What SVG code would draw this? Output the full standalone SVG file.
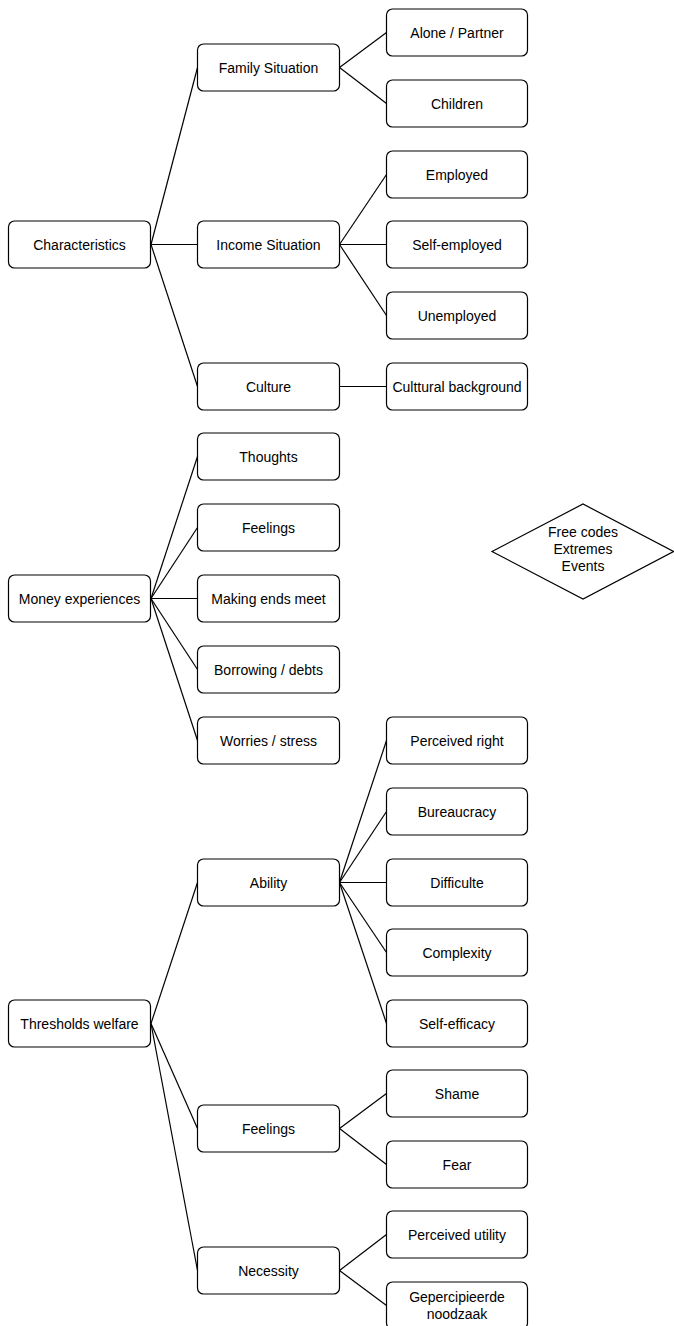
<svg xmlns="http://www.w3.org/2000/svg" width="674" height="1326" viewBox="0 0 674 1326">
<style>
.n rect{fill:#fff;stroke:#000;stroke-width:1.2}
.n text,.d text{font-family:"Liberation Sans",Arial,sans-serif;font-size:14px;fill:#000;text-anchor:middle;dominant-baseline:central}
#connectors line{stroke:#000;stroke-width:1.2}
</style>
<rect width="674" height="1326" fill="#fff"/>
<g id="connectors">
<line x1="151" y1="244.5" x2="197.5" y2="67.5"/>
<line x1="151" y1="244.5" x2="197.5" y2="244.5"/>
<line x1="151" y1="244.5" x2="197.5" y2="386.5"/>
<line x1="339.5" y1="67.5" x2="386.5" y2="32.5"/>
<line x1="339.5" y1="67.5" x2="386.5" y2="103.5"/>
<line x1="339.5" y1="244.5" x2="386.5" y2="174.5"/>
<line x1="339.5" y1="244.5" x2="386.5" y2="244.5"/>
<line x1="339.5" y1="244.5" x2="386.5" y2="315.5"/>
<line x1="339.5" y1="386.5" x2="386.5" y2="386.5"/>
<line x1="151" y1="598.5" x2="197.5" y2="456.5"/>
<line x1="151" y1="598.5" x2="197.5" y2="527.5"/>
<line x1="151" y1="598.5" x2="197.5" y2="598.5"/>
<line x1="151" y1="598.5" x2="197.5" y2="669.5"/>
<line x1="151" y1="598.5" x2="197.5" y2="740.5"/>
<line x1="151" y1="1023.5" x2="197.5" y2="882.5"/>
<line x1="151" y1="1023.5" x2="197.5" y2="1128.5"/>
<line x1="151" y1="1023.5" x2="197.5" y2="1270.5"/>
<line x1="339.5" y1="882.5" x2="386.5" y2="740.5"/>
<line x1="339.5" y1="882.5" x2="386.5" y2="811.5"/>
<line x1="339.5" y1="882.5" x2="386.5" y2="882.5"/>
<line x1="339.5" y1="882.5" x2="386.5" y2="952.5"/>
<line x1="339.5" y1="882.5" x2="386.5" y2="1023.5"/>
<line x1="339.5" y1="1128.5" x2="386.5" y2="1093.5"/>
<line x1="339.5" y1="1128.5" x2="386.5" y2="1164.5"/>
<line x1="339.5" y1="1270.5" x2="386.5" y2="1234.5"/>
<line x1="339.5" y1="1270.5" x2="386.5" y2="1305.5"/>
</g>
<g id="characteristics" class="n"><rect x="8.5" y="221" width="142" height="47" rx="6"/><text x="79.5" y="244.5">Characteristics</text></g>
<g id="family-situation" class="n"><rect x="197.5" y="44" width="142" height="47" rx="6"/><text x="268.5" y="67.5">Family Situation</text></g>
<g id="income-situation" class="n"><rect x="197.5" y="221" width="142" height="47" rx="6"/><text x="268.5" y="244.5">Income Situation</text></g>
<g id="culture" class="n"><rect x="197.5" y="363" width="142" height="47" rx="6"/><text x="268.5" y="386.5">Culture</text></g>
<g id="alone-partner" class="n"><rect x="386.5" y="9" width="141" height="47" rx="6"/><text x="457" y="32.5">Alone / Partner</text></g>
<g id="children" class="n"><rect x="386.5" y="80" width="141" height="47" rx="6"/><text x="457" y="103.5">Children</text></g>
<g id="employed" class="n"><rect x="386.5" y="151" width="141" height="47" rx="6"/><text x="457" y="174.5">Employed</text></g>
<g id="self-employed" class="n"><rect x="386.5" y="221" width="141" height="47" rx="6"/><text x="457" y="244.5">Self-employed</text></g>
<g id="unemployed" class="n"><rect x="386.5" y="292" width="141" height="47" rx="6"/><text x="457" y="315.5">Unemployed</text></g>
<g id="cultural-background" class="n"><rect x="386.5" y="363" width="141" height="47" rx="6"/><text x="457" y="386.5">Culttural background</text></g>
<g id="money-experiences" class="n"><rect x="8.5" y="575" width="142" height="47" rx="6"/><text x="79.5" y="598.5">Money experiences</text></g>
<g id="thoughts" class="n"><rect x="197.5" y="433" width="142" height="47" rx="6"/><text x="268.5" y="456.5">Thoughts</text></g>
<g id="feelings-1" class="n"><rect x="197.5" y="504" width="142" height="47" rx="6"/><text x="268.5" y="527.5">Feelings</text></g>
<g id="making-ends-meet" class="n"><rect x="197.5" y="575" width="142" height="47" rx="6"/><text x="268.5" y="598.5">Making ends meet</text></g>
<g id="borrowing-debts" class="n"><rect x="197.5" y="646" width="142" height="47" rx="6"/><text x="268.5" y="669.5">Borrowing / debts</text></g>
<g id="worries-stress" class="n"><rect x="197.5" y="717" width="142" height="47" rx="6"/><text x="268.5" y="740.5">Worries / stress</text></g>
<g id="free-codes" class="d"><polygon points="492,551.5 583,504 673.5,551.5 583,599" fill="#fff" stroke="#000" stroke-width="1.2"/><text x="583" y="532">Free codes</text><text x="583" y="549">Extremes</text><text x="583" y="566">Events</text></g>
<g id="thresholds-welfare" class="n"><rect x="8.5" y="1000" width="142" height="47" rx="6"/><text x="79.5" y="1023.5">Thresholds welfare</text></g>
<g id="ability" class="n"><rect x="197.5" y="859" width="142" height="47" rx="6"/><text x="268.5" y="882.5">Ability</text></g>
<g id="feelings-2" class="n"><rect x="197.5" y="1105" width="142" height="47" rx="6"/><text x="268.5" y="1128.5">Feelings</text></g>
<g id="necessity" class="n"><rect x="197.5" y="1247" width="142" height="47" rx="6"/><text x="268.5" y="1270.5">Necessity</text></g>
<g id="perceived-right" class="n"><rect x="386.5" y="717" width="141" height="47" rx="6"/><text x="457" y="740.5">Perceived right</text></g>
<g id="bureaucracy" class="n"><rect x="386.5" y="788" width="141" height="47" rx="6"/><text x="457" y="811.5">Bureaucracy</text></g>
<g id="difficulte" class="n"><rect x="386.5" y="859" width="141" height="47" rx="6"/><text x="457" y="882.5">Difficulte</text></g>
<g id="complexity" class="n"><rect x="386.5" y="929" width="141" height="47" rx="6"/><text x="457" y="952.5">Complexity</text></g>
<g id="self-efficacy" class="n"><rect x="386.5" y="1000" width="141" height="47" rx="6"/><text x="457" y="1023.5">Self-efficacy</text></g>
<g id="shame" class="n"><rect x="386.5" y="1070" width="141" height="47" rx="6"/><text x="457" y="1093.5">Shame</text></g>
<g id="fear" class="n"><rect x="386.5" y="1141" width="141" height="47" rx="6"/><text x="457" y="1164.5">Fear</text></g>
<g id="perceived-utility" class="n"><rect x="386.5" y="1211" width="141" height="47" rx="6"/><text x="457" y="1234.5">Perceived utility</text></g>
<g id="gepercipieerde-noodzaak" class="n"><rect x="386.5" y="1282" width="141" height="47" rx="6"/><text x="457" y="1297">Gepercipieerde</text><text x="457" y="1314">noodzaak</text></g>
</svg>
